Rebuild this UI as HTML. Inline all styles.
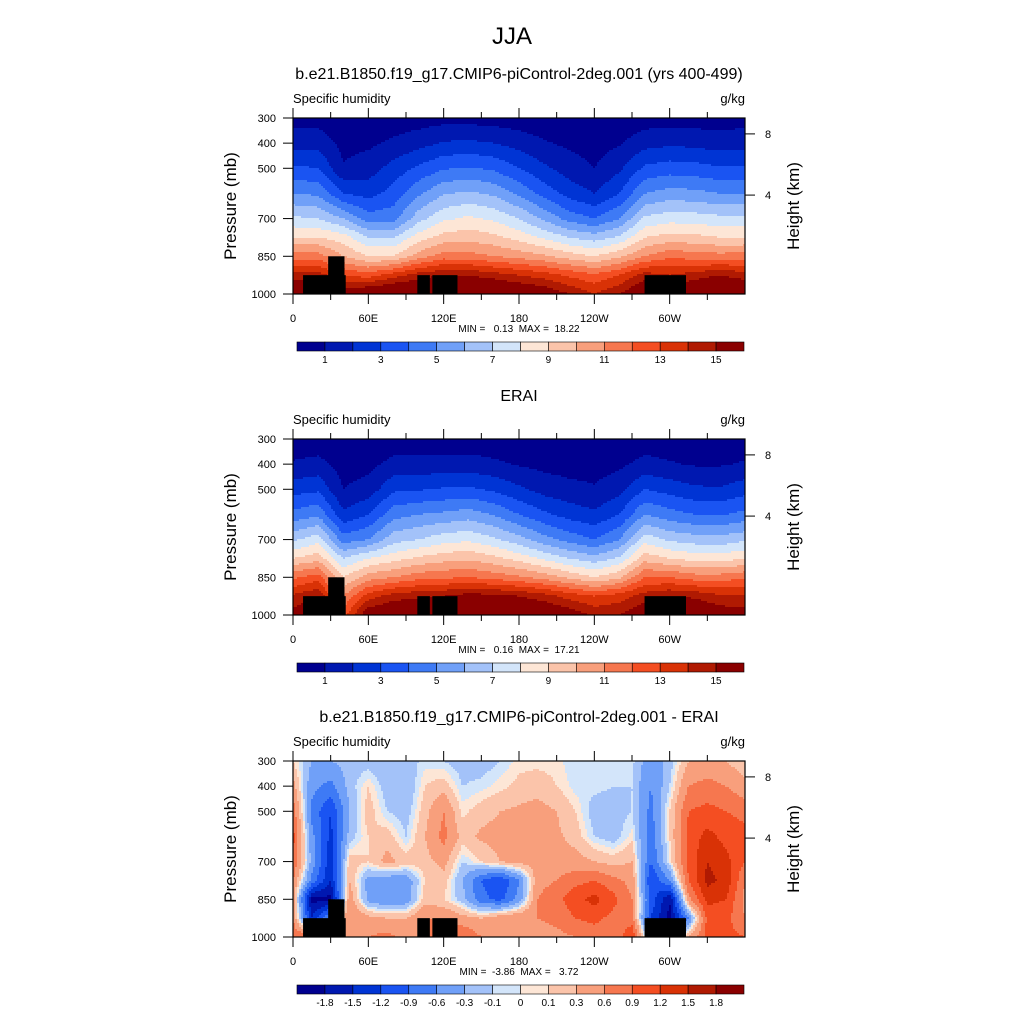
<!DOCTYPE html>
<html><head><meta charset="utf-8">
<style>
html,body{margin:0;padding:0;background:#fff;}
svg text{font-family:"Liberation Sans",sans-serif;fill:#000;}
.pre{white-space:pre;}
</style></head>
<body>
<svg id="chart" width="1024" height="1024" viewBox="0 0 1024 1024" xmlns="http://www.w3.org/2000/svg">
<rect x="0" y="0" width="1024" height="1024" fill="#fff"/>
<text x="512" y="44" font-size="24" text-anchor="middle">JJA</text>
<text x="519" y="79" font-size="16" text-anchor="middle">b.e21.B1850.f19_g17.CMIP6-piControl-2deg.001 (yrs 400-499)</text>
<text x="519" y="401" font-size="16" text-anchor="middle">ERAI</text>
<text x="519" y="722" font-size="16" text-anchor="middle">b.e21.B1850.f19_g17.CMIP6-piControl-2deg.001 - ERAI</text>
<g id="panels"></g>
</svg>
<script>
// ---------- data ----------
const pressureLevels = [300,400,500,600,700,775,850,925,1000];
const lonsModel = [0,20,40,60,80,100,120,140,160,180,200,220,240,260,280,300,320,340,360];
const qModel = [
 [.6,.6,.3,.3,.4,.5,.6,.6,.5,.4,.3,.3,.2,.3,.5,.5,.5,.5,.6],
 [1.6,1.6,.7,.8,1.2,1.6,2.1,2.2,2.0,1.6,1.1,.8,.6,.9,1.6,1.8,1.7,1.5,1.6],
 [3.2,3.0,1.1,1.5,2.4,3.2,3.9,4.1,3.8,3.0,2.2,1.5,1.0,1.8,3.2,3.5,3.4,3.1,3.2],
 [5.0,4.8,3.0,2.6,3.4,4.8,5.9,6.2,5.8,4.8,3.6,2.6,2.0,3.0,5.0,5.4,5.3,5.0,5.0],
 [7.2,7.0,6.0,4.5,4.6,6.6,7.8,8.2,7.8,7.0,5.8,4.6,4.0,5.0,7.2,7.6,7.5,7.3,7.2],
 [9.0,9.0,8.5,7.0,7.0,8.5,9.4,9.6,9.3,8.6,7.8,7.0,6.5,7.2,9.0,9.4,9.3,9.0,9.0],
 [11.5,11.5,10.0,9.0,9.0,10.5,11.5,11.4,11.0,10.6,10.2,9.5,9.0,9.8,11.0,11.8,11.5,11.4,11.5],
 [14.5,14.5,13,12.5,13.5,14.5,15,15,14.5,14,13.5,12.8,12.2,13,14.5,14,14.5,15,14.5],
 [16.5,17,16,16.5,17,17,17.5,17,17,16.5,16,15,14,15,16.5,16,16.5,17,16.5]
];
const lonsObs = [0,20,40,60,80,100,120,140,160,180,200,220,240,260,280,300,320,340,360];
const qObs = [
 [.4,.4,.3,.3,.4,.4,.4,.4,.3,.3,.2,.2,.2,.3,.5,.4,.3,.3,.4],
 [1.1,1.3,.6,.7,1.3,1.3,1.4,1.4,1.2,.9,.7,.6,.6,.8,1.3,1.1,.9,.9,1.1],
 [2.6,2.8,1.0,1.4,2.8,2.9,3.1,3.2,2.8,2.2,1.6,1.3,1.1,1.6,3.0,2.6,2.2,2.1,2.6],
 [4.3,4.8,2.2,3.0,4.6,5.0,5.2,5.5,4.9,4.0,3.2,2.6,2.2,3.0,5.0,4.4,4.0,3.9,4.3],
 [6.8,7.6,4.5,5.0,6.6,7.0,7.6,7.8,7.2,6.4,5.4,4.6,4.0,5.0,7.6,6.8,6.5,6.4,6.8],
 [9.0,9.6,7.0,8.0,8.6,9.2,9.6,9.8,9.3,8.6,7.8,7.0,6.4,7.2,9.6,9.0,8.6,8.5,9.0],
 [11.8,12.5,9.0,10.5,11.0,11.6,11.8,12.0,11.6,11.2,10.6,9.8,9.0,9.8,12.0,12.0,11.5,11.5,11.8],
 [14.2,15.0,11.0,13.5,14.5,14.8,15.0,15.5,15.3,15.0,14.5,13.6,13.0,13.5,14.5,15.0,14.8,14.2,14.2],
 [15.5,16.5,12.5,16.0,16.6,16.6,16.6,17,17,16.6,16.4,15.8,14.8,15.0,16.0,16.6,16.5,15.8,15.5]
];
const lonsDiff = [0,15,30,45,60,75,90,105,120,135,150,165,180,195,210,225,240,255,270,285,300,315,330,345,360];
const qDiff = [
 [.1,-.3,-.3,-.2,-.2,-.3,-.2,-.05,-.1,-.2,-.2,-.1,.05,.05,.05,-.1,-.1,-.1,-.05,-.5,-.2,.3,.4,.3,.1],
 [.4,-.5,-.7,-.2,.1,-.2,-.3,.1,.2,-.1,-.05,.05,.15,.2,.1,-.05,-.05,-.1,-.1,-.6,-.1,.6,.7,.6,.4],
 [.8,-.7,-1.2,-.3,.2,-.1,-.2,.2,.6,.05,.2,.3,.35,.4,.3,.1,-.2,-.2,-.1,-.7,.1,.9,1.0,.9,.8],
 [1.0,-.5,-1.3,-.2,.1,.2,-.1,.3,.7,.2,.35,.4,.4,.45,.35,.2,-.1,-.2,.05,-.8,.1,1.0,1.3,1.1,1.0],
 [.9,-.4,-1.4,.2,.1,.4,.2,.2,.4,-.1,.1,.3,.4,.4,.45,.4,.3,.2,.3,-.9,.0,1.0,1.5,1.3,.9],
 [.6,-.7,-1.5,.3,-.4,-.5,-.5,.1,.2,-.3,-.9,-1.2,-.6,.5,.6,.8,.9,.7,.5,-1.2,-.6,.9,1.6,1.4,.6],
 [.5,-1.9,-1.9,.5,-.4,-.6,-.5,.2,.1,-.2,-.8,-1.0,-.5,.6,.8,1.1,1.3,1.0,.6,-1.0,-1.8,.5,1.3,1.2,.5],
 [.6,-1.5,-.5,.6,.4,.3,.3,.6,.6,.4,.3,.5,.6,.6,.7,.9,1.0,.8,.7,-1.2,-1.9,-.6,1.0,1.0,.6],
 [.9,.9,.6,.6,.6,.7,.5,.6,.9,.9,.6,.5,.5,.4,.5,.6,.7,.6,1.2,-.6,-.8,.3,1.0,1.0,.9]
];
const levelsQ = [1,2,3,4,5,6,7,8,9,10,11,12,13,14,15];
const labelsQ = ["1","3","5","7","9","11","13","15"];
const levelsDiff = [-1.8,-1.5,-1.2,-0.9,-0.6,-0.3,-0.1,0,0.1,0.3,0.6,0.9,1.2,1.5,1.8];
const labelsDiff = ["-1.8","-1.5","-1.2","-0.9","-0.6","-0.3","-0.1","0","0.1","0.3","0.6","0.9","1.2","1.5","1.8"];
const pTicks = [300,400,500,700,850,1000];
const heightTicks = [8,4];
const lonTickLabels = ["0","60E","120E","180","120W","60W"];
const minMaxText = ["MIN =   0.13  MAX =  18.22","MIN =   0.16  MAX =  17.21","MIN =  -3.86  MAX =   3.72"];
// topography mask blocks [lon0, lon1, pTop]
const topoBlocks = [[8,42,925],[28,41,850],[99,109,925],[111,131,925],[280,313,925]];
const palette = ["#00008f","#0018b0","#0034d4","#1a54f2","#3e7af5","#70a0f8","#a3c2f9","#d3e5fa","#fde6d6","#fbc4aa","#f89f7c","#f6774f","#f44e22","#d93206","#b01a02","#8a0000"];

// ---------- axes ----------
const X0=293, X1=745, PH=176;
function xScale(lon){return X0+(lon/360)*(X1-X0);}
function yScale(p,top){return top+(p-300)/700*PH;}
function heightY(km,top){const p=1013*Math.exp(-km/7.8);return yScale(p,top);}
const NS="http://www.w3.org/2000/svg";
const root=document.getElementById('panels');
function mk(tag,attrs,parent){const e=document.createElementNS(NS,tag);for(const k in attrs)e.setAttribute(k,attrs[k]);(parent||root).appendChild(e);return e;}
function interp(lons,grid,lon,p){
  let i=0;while(i<lons.length-2&&lon>lons[i+1])i++;
  let j=0;while(j<pressureLevels.length-2&&p>pressureLevels[j+1])j++;
  const tx=(lon-lons[i])/(lons[i+1]-lons[i]);
  const ty=(p-pressureLevels[j])/(pressureLevels[j+1]-pressureLevels[j]);
  const a=grid[j][i],b=grid[j][i+1],c=grid[j+1][i],d=grid[j+1][i+1];
  return (a*(1-tx)+b*tx)*(1-ty)+(c*(1-tx)+d*tx)*ty;
}
function bin(v,levels){let k=0;while(k<levels.length&&v>=levels[k])k++;return k;}

function drawPanel(top,lons,grid,levels,labels,mmText,idx,labelEvery){
  const g=mk('g',{});
  
  
  const field=mk('g',{},g);
  
  
  const step=2;
  for(let y=top;y<top+PH;y+=step){
    const p=300+((y+step/2-top)/PH)*700;
    let runStart=X0,runCol=null;
    for(let x=X0;x<=X1;x+=step){
      let col=null;
      if(x<X1){const lon=(x+step/2-X0)/(X1-X0)*360;col=palette[bin(interp(lons,grid,lon,p),levels)];}
      if(col!==runCol){
        if(runCol!==null){
          const r=mk('rect',{x:runStart,y:y,width:Math.min(x,X1)-runStart+0.5,height:step+0.5,fill:runCol},field);
          
          
        }
        runStart=x;runCol=col;
      }
    }
  }
  topoBlocks.forEach(b=>{
    const yT=yScale(b[2],top);
    const r=mk('rect',{x:xScale(b[0]),y:yT,width:xScale(b[1])-xScale(b[0]),height:top+PH-yT,fill:"#000"},g);
    
    
  });
  const frame=mk('rect',{x:X0,y:top,width:X1-X0,height:PH,fill:"none",stroke:"#000","stroke-width":1.2},g);
  
  
  pTicks.forEach(p=>{
    const y=yScale(p,top);
    mk('line',{x1:X0-10,x2:X0,y1:y,y2:y,stroke:"#000"},g);
    const t=mk('text',{x:X0-17,y:y+4,"font-size":11,"text-anchor":"end"},g);t.textContent=p;
    
    
  });
  heightTicks.forEach(h=>{
    const y=heightY(h,top);
    mk('line',{x1:X1,x2:X1+10,y1:y,y2:y,stroke:"#000"},g);
    const t=mk('text',{x:X1+20,y:y+4,"font-size":11},g);t.textContent=h;
    
    
  });
  for(let lon=0;lon<360;lon+=30){
    const x=xScale(lon),major=lon%60===0,len=major?10:6;
    mk('line',{x1:x,x2:x,y1:top+PH,y2:top+PH+len,stroke:"#000"},g);
    mk('line',{x1:x,x2:x,y1:top,y2:top-len,stroke:"#000"},g);
    if(major){const t=mk('text',{x:x,y:top+PH+28,"font-size":11,"text-anchor":"middle"},g);t.textContent=lonTickLabels[lon/60];
      
      }
  }
  const st=mk('text',{x:X0,y:top-15,"font-size":13},g);st.textContent="Specific humidity";
  
  
  const un=mk('text',{x:X1,y:top-15,"font-size":13,"text-anchor":"end"},g);un.textContent="g/kg";
  
  
  const yl=mk('text',{x:0,y:0,"font-size":17,"text-anchor":"middle",transform:`translate(236,${top+PH/2}) rotate(-90)`},g);yl.textContent="Pressure (mb)";
  
  
  const yr=mk('text',{x:0,y:0,"font-size":17,"text-anchor":"middle",transform:`translate(799,${top+PH/2}) rotate(-90)`},g);yr.textContent="Height (km)";
  
  
  const mm=mk('text',{x:519,y:top+PH+38,"font-size":10,"text-anchor":"middle","class":"pre"},g);mm.textContent=mmText;
  
  
  const cb=mk('g',{},g);
  
  
  const cx0=297,cx1=744,cy=top+PH+48,ch=9,w=(cx1-cx0)/16;
  palette.forEach((c,k)=>{
    const r=mk('rect',{x:cx0+k*w,y:cy,width:w,height:ch,fill:c,stroke:"#000","stroke-width":0.6},cb);
    
    
  });
  labels.forEach((l,k)=>{
    const bIdx=k*labelEvery+1;
    const t=mk('text',{x:cx0+bIdx*w,y:cy+ch+12,"font-size":10,"text-anchor":"middle"},cb);t.textContent=l;
    
    
  });
}
drawPanel(118,lonsModel,qModel,levelsQ,labelsQ,minMaxText[0],1,2);
drawPanel(439,lonsObs,qObs,levelsQ,labelsQ,minMaxText[1],2,2);
drawPanel(761,lonsDiff,qDiff,levelsDiff,labelsDiff,minMaxText[2],3,1);
</script>
</body></html>
